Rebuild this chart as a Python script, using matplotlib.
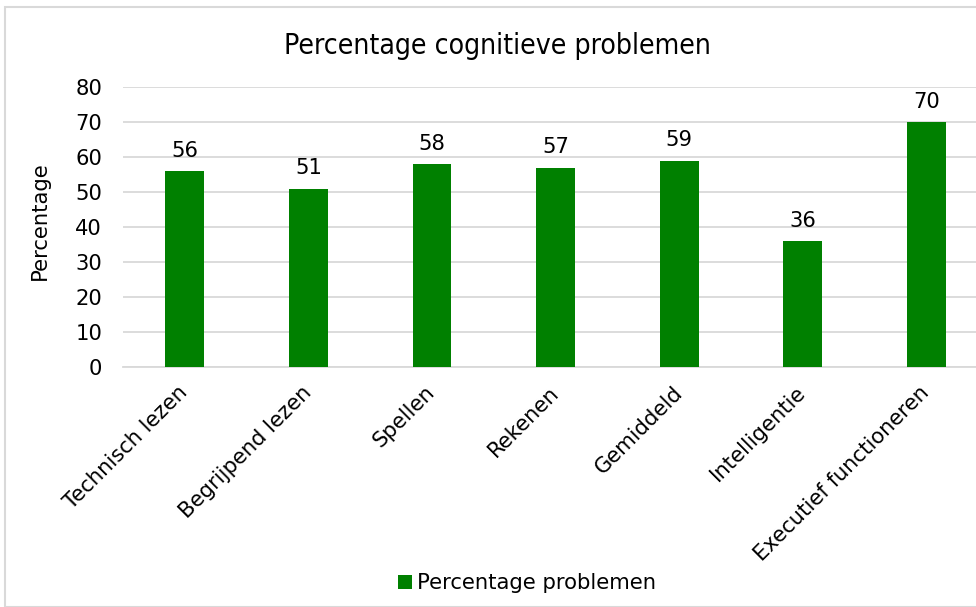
import matplotlib
matplotlib.use("Agg")
import matplotlib.pyplot as plt
from matplotlib.patches import Rectangle
import numpy as np

categories = ["Technisch lezen", "Begrijpend lezen", "Spellen", "Rekenen",
              "Gemiddeld", "Intelligentie", "Executief functioneren"]
values = [56, 51, 58, 57, 59, 36, 70]
series_name = "Percentage problemen"
barColor = "#008000"
gridColor = "#d9d9d9"
fs = 15.2

plt.rcParams['font.family'] = ['DejaVu Sans']

W, H = 976, 607
fig = plt.figure(figsize=(W/100, H/100), dpi=100)

# outer chart border (as in the spreadsheet export)
fig.patches.append(Rectangle((5/W, 0), 1.0, 1 - 7/H, transform=fig.transFigure,
                             fill=False, edgecolor=gridColor, lw=1.5))

# plot area: 0 at y=367, 80 at y=87, category width ~123.6 px
left = 123/W
width = 7*123.6/W
bottom = 1 - 367/H
height = 280/H
ax = fig.add_axes([left, bottom, width, height])

x = np.arange(len(categories))
bars = ax.bar(x, values, width=0.315, color=barColor, label=series_name, zorder=3)

ax.set_xlim(-0.5, len(categories) - 0.5)
ax.set_ylim(0, 80)
ax.set_yticks(range(0, 81, 10))
ax.yaxis.grid(True, color=gridColor, lw=1.3, zorder=0)
for s in ["top", "right", "left"]:
    ax.spines[s].set_visible(False)
ax.spines["bottom"].set_color(gridColor)
ax.spines["bottom"].set_linewidth(1.3)
ax.tick_params(axis="both", length=0, labelsize=fs)
ax.tick_params(axis="y", pad=15)
ax.tick_params(axis="x", pad=16)

ax.set_xticks(x)
ax.set_xticklabels(categories, rotation=45, ha="right", va="center",
                   rotation_mode="anchor")

for xi, v in zip(x, values):
    ax.annotate(str(v), (xi, v), xytext=(0, 7.5), textcoords="offset points",
                ha="center", va="bottom", fontsize=fs)

fig.text(40/W, 1 - 221/H, "Percentage", rotation=90, ha="center", va="center",
         fontsize=fs)

fig.text(497/W, 1 - 46/H, "Percentage cognitieve problemen", ha="center",
         va="center", fontsize=20.3, fontstretch="condensed")

leg = fig.legend(handles=[bars], labels=[series_name], loc="center",
                 bbox_to_anchor=(527/W, 1 - 583/H), frameon=False,
                 fontsize=fs, handlelength=0.65, handleheight=0.65,
                 handletextpad=0.25)

fig.savefig("out.png", dpi=100)
